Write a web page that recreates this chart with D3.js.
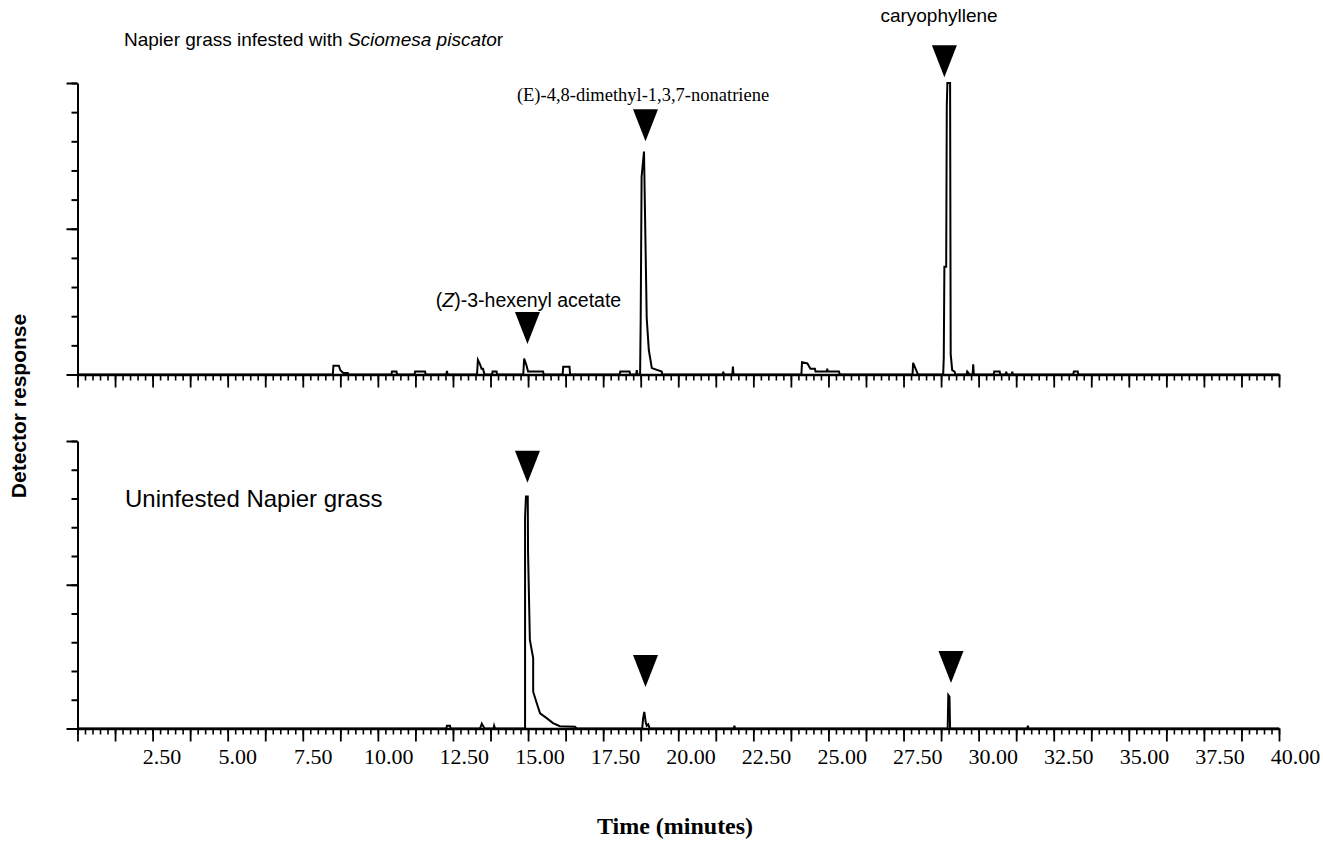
<!DOCTYPE html>
<html><head><meta charset="utf-8">
<script src="https://cdn.jsdelivr.net/npm/d3@7"></script>
<style>
html,body{margin:0;padding:0;background:#fff;}
svg{display:block;}
</style></head>
<body>
<svg id="chart" width="1323" height="846"></svg>
<script>
// ---- data ----
const xTickLabels = [2.5,5,7.5,10,12.5,15,17.5,20,22.5,25,27.5,30,32.5,35,37.5,40];
const yTicks = [0,1,2,3,4,5,6,7,8,9,10];
const yMajorTicks = [0,5,10];

const infestedTime = [0,
 8.5,8.52,8.7,8.75,8.85,9.0,9.02,
 10.45,10.47,10.62,10.64,
 11.22,11.24,11.57,11.59,
 12.28,12.3,12.32,
 13.3,13.33,13.4,13.45,13.5,13.55,
 13.8,13.82,13.95,13.97,
 14.84,14.87,14.95,15.0,15.5,15.52,
 16.15,16.17,16.38,16.4,
 18.05,18.07,18.38,18.4,
 18.6,18.62,18.64,
 18.73,18.75,18.78,18.86,18.95,19.02,19.12,19.45,19.47,
 21.48,21.5,21.52,
 21.8,21.82,21.84,
 24.1,24.12,24.3,24.4,24.55,24.57,24.95,24.96,24.98,25.35,25.38,
 27.8,27.82,27.9,27.98,
 28.82,28.84,28.86,28.92,28.94,28.96,29.05,29.07,29.12,29.2,29.22,
 29.6,29.62,29.7,
 29.8,29.82,29.84,
 30.5,30.52,30.7,30.72,
 30.9,30.92,30.94,
 31.1,31.12,31.14,
 33.15,33.17,33.3,33.32,
 40];
const infestedSignal = [0,
 0,0.3,0.3,0.15,0.05,0.05,0,
 0,0.1,0.1,0,
 0,0.1,0.1,0,
 0,0.12,0,
 0,0.5,0.35,0.2,0.2,0,
 0,0.1,0.1,0,
 0,0.55,0.3,0.1,0.1,0,
 0,0.27,0.27,0,
 0,0.1,0.1,0,
 0,0.15,0,
 0,1.94,6.79,7.65,1.94,0.84,0.22,0.1,0,
 0,0.1,0,
 0,0.27,0,
 0,0.42,0.38,0.2,0.2,0.1,0.1,0.2,0.1,0.1,0,
 0,0.4,0.2,0,
 0,0.6,3.7,3.7,9.2,10,10,0.7,0.15,0.1,0,
 0,0.1,0,
 0,0.35,0,
 0,0.1,0.1,0,
 0,0.1,0,
 0,0.1,0,
 0,0.1,0.1,0,
 0];

const uninfestedTime = [0,
 12.28,12.3,12.4,12.42,
 13.4,13.46,13.55,
 13.85,13.87,13.9,
 14.9,14.9,14.93,14.99,15.0,15.06,15.17,15.17,15.29,15.4,15.62,15.83,16.06,16.56,16.62,
 18.8,18.83,18.87,18.92,18.95,19.0,19.05,
 21.85,21.87,21.89,
 28.97,28.99,29.03,29.05,
 31.62,31.64,31.66,
 40];
const uninfestedSignal = [0,
 0,0.1,0.1,0,
 0,0.17,0,
 0,0.1,0,
 0,7.33,8.07,8.07,6.1,3.08,2.45,1.28,0.88,0.53,0.36,0.19,0.08,0.06,0,
 0,0.35,0.58,0.2,0.1,0.15,0,
 0,0.1,0,
 0,1.16,1.1,0,
 0,0.1,0,
 0];

const infestedMarkerTime = [14.98, 18.91, 28.86];
const infestedMarkerLevel = [1.05, 8.0, 10.2];
const uninfestedMarkerTime = [14.98, 18.91, 29.08];
const uninfestedMarkerLevel = [8.55, 1.44, 1.58];

// ---- layout ----
const svg = d3.select("#chart");
const x = d3.scaleLinear().domain([0,40]).range([77.5,1279]);
const xLabel = d3.scaleLinear().domain([0,40]).range([86,1295]);
const yTop = d3.scaleLinear().domain([0,10]).range([374.5,83]);
const yBot = d3.scaleLinear().domain([0,10]).range([728.5,441]);

const minorTicks = d3.range(0,161).map(i=>i*0.25);
const majorTicks = d3.range(0,33).map(i=>i*1.25);

function panel(y, times, signal, mTimes, mLevels){
  const g = svg.append("g");
  g.append("g").attr("transform",`translate(${x(0)},0)`)
    .call(d3.axisLeft(y).tickValues(yTicks).tickSize(6).tickSizeOuter(0).tickFormat(""))
    .call(a=>a.selectAll("line,path").attr("stroke","#000").attr("stroke-width",2));
  g.append("g").attr("transform",`translate(${x(0)},0)`)
    .call(d3.axisLeft(y).tickValues(yMajorTicks).tickSize(11).tickSizeOuter(0).tickFormat(""))
    .call(a=>a.select(".domain").remove())
    .call(a=>a.selectAll("line").attr("stroke","#000").attr("stroke-width",2));
  g.append("g").attr("transform",`translate(0,${y(0)})`)
    .call(d3.axisBottom(x).tickValues(minorTicks).tickSize(6).tickSizeOuter(0).tickFormat(""))
    .call(a=>a.select(".domain").attr("stroke","#000").attr("stroke-width",2.5))
    .call(a=>a.selectAll(".tick line").attr("stroke","#000").attr("stroke-width",1.6));
  g.append("g").attr("transform",`translate(0,${y(0)})`)
    .call(d3.axisBottom(x).tickValues(majorTicks).tickSize(13).tickSizeOuter(0).tickFormat(""))
    .call(a=>a.select(".domain").remove())
    .call(a=>a.selectAll(".tick line").attr("stroke","#000").attr("stroke-width",1.8));
  const pts = times.map((t,i)=>[t, signal[i]]);
  g.append("path").datum(pts)
    .attr("fill","none").attr("stroke","#000").attr("stroke-width",2).attr("stroke-linejoin","miter")
    .attr("d", d3.line().x(d=>x(d[0])).y(d=>y(d[1])));
  g.selectAll("path.marker").data(mTimes.map((t,i)=>[t,mLevels[i]])).join("path")
    .attr("class","marker").attr("fill","#000")
    .attr("d", d=>{const cx=x(d[0]), ty=y(d[1]); return `M${cx-12.5},${ty-32}L${cx+12.5},${ty-32}L${cx},${ty}Z`;});
  return g;
}

panel(yTop, infestedTime, infestedSignal, infestedMarkerTime, infestedMarkerLevel);
panel(yBot, uninfestedTime, uninfestedSignal, uninfestedMarkerTime, uninfestedMarkerLevel);

const sans = "'Liberation Sans', Arial, sans-serif";
const serif = "'Liberation Serif', 'Times New Roman', serif";

svg.append("g").attr("transform",`translate(0,${yBot(0)})`)
  .call(d3.axisBottom(xLabel).tickValues(xTickLabels).tickSize(0).tickPadding(20).tickFormat(d3.format(".2f")))
  .call(a=>a.select(".domain").remove())
  .call(a=>a.selectAll("text").attr("font-family",serif).attr("font-size",22).attr("fill","#000"));

const t1 = svg.append("text").attr("x",124).attr("y",46).attr("font-family",sans).attr("font-size",19);
t1.append("tspan").text("Napier grass infested with ");
t1.append("tspan").attr("font-style","italic").text("Sciomesa piscato");
t1.append("tspan").text("r");

svg.append("text").attr("x",939).attr("y",22).attr("text-anchor","middle").attr("font-family",sans).attr("font-size",19).text("caryophyllene");
svg.append("text").attr("x",643).attr("y",101).attr("text-anchor","middle").attr("font-family",serif).attr("font-size",18.5).text("(E)-4,8-dimethyl-1,3,7-nonatriene");
const t2 = svg.append("text").attr("x",528.5).attr("y",307).attr("text-anchor","middle").attr("font-family",sans).attr("font-size",19.5);
t2.append("tspan").text("(");
t2.append("tspan").attr("font-style","italic").text("Z");
t2.append("tspan").text(")-3-hexenyl acetate");

svg.append("text").attr("x",125).attr("y",507).attr("font-family",sans).attr("font-size",24).text("Uninfested Napier grass");

svg.append("text").attr("x",675).attr("y",834).attr("text-anchor","middle").attr("font-family",serif).attr("font-weight","bold").attr("font-size",24).text("Time (minutes)");
svg.append("text").attr("transform","translate(26,406) rotate(-90)").attr("text-anchor","middle").attr("font-family",sans).attr("font-weight","bold").attr("font-size",21).text("Detector response");
</script>
</body></html>
